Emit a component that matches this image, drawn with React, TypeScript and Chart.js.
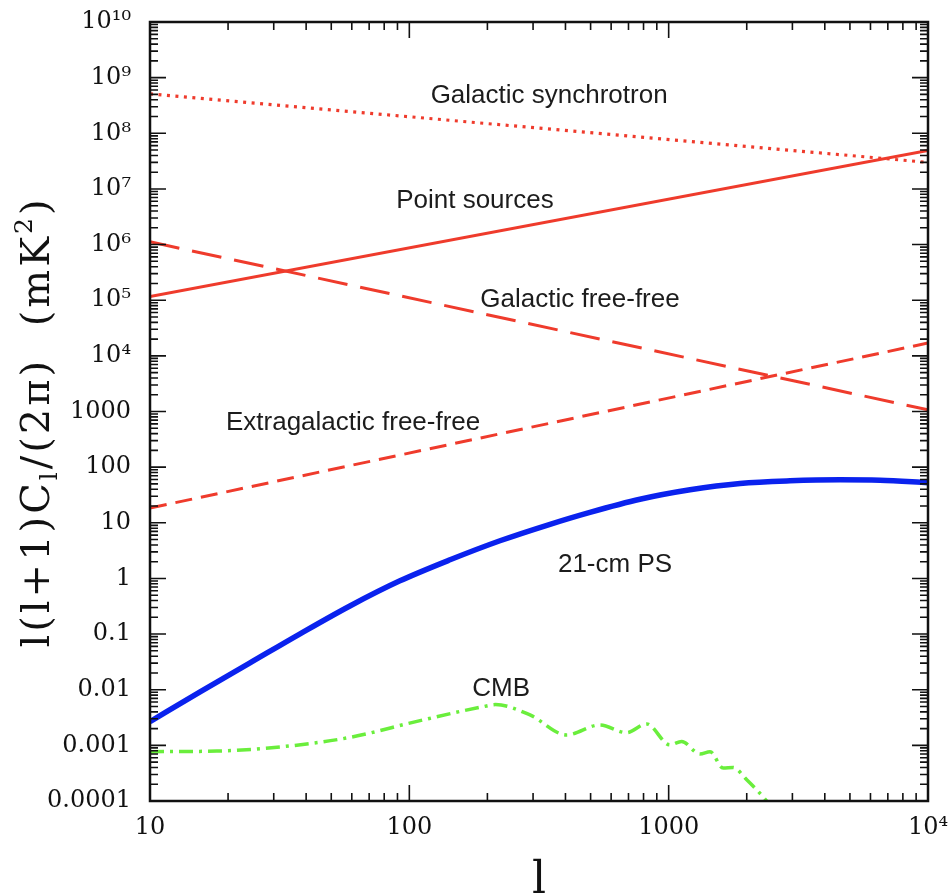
import React, { useEffect, useRef } from "react";
import { Chart, registerables } from "chart.js";

Chart.register(...registerables);

// ---- axis ticks ----
const xTickValues = [10, 100, 1000, 10000];
const xTickLabels = ["10", "100", "1000", "10⁴"];
const yTickValues = [1e-4, 1e-3, 1e-2, 1e-1, 1, 10, 100, 1000, 1e4, 1e5, 1e6, 1e7, 1e8, 1e9, 1e10];
const yTickLabels = [
  "0.0001", "0.001", "0.01", "0.1", "1", "10", "100", "1000",
  "10⁴", "10⁵", "10⁶", "10⁷", "10⁸", "10⁹", "10¹⁰",
];

// ---- series (multipole l, l(l+1)C_l/2π in mK^2) ----
const synchrotronL = [10, 10000];
const synchrotronV = [5.1e8, 3.0e7];

const pointSourcesL = [10, 10000];
const pointSourcesV = [1.17e5, 4.9e7];

const galacticFFL = [10, 10000];
const galacticFFV = [1.12e6, 1.07e3];

const extragalacticFFL = [10, 10000];
const extragalacticFFV = [18.4, 1.7e4];

const ps21L = [10, 15.6, 24.3, 37.9, 59, 92, 143.5, 223.6, 348.7, 497, 775, 1209, 1884, 2937, 4579, 6530, 10000];
const ps21V = [0.00267, 0.00913, 0.0303, 0.101, 0.32, 0.905, 2.16, 4.75, 9.4, 15.4, 26.5, 39.2, 51, 56.9, 59.3, 58.1, 52.4];

const cmbL = [10, 18.1, 32.7, 59, 107, 193, 215, 292, 404, 543, 688, 822, 1011, 1122, 1321, 1444, 1622, 1772, 2000, 2388, 2500];
const cmbV = [7.7e-4, 7.9e-4, 9.5e-4, 1.39e-3, 2.7e-3, 4.97e-3, 5.4e-3, 3.52e-3, 1.54e-3, 2.33e-3, 1.69e-3, 2.43e-3, 1.02e-3, 1.17e-3, 7.0e-4, 7.7e-4, 3.9e-4, 4.0e-4, 2.4e-4, 1.0e-4, 7.5e-5];

// ---- in-plot labels (anchored at data coordinates) ----
const labelTexts = ["Galactic synchrotron", "Point sources", "Galactic free-free", "Extragalactic free-free", "21-cm PS", "CMB"];
const labelL = [346, 179, 455, 60.7, 621, 226];
const labelV = [4.8e8, 6.2e6, 1.02e5, 630, 1.76, 0.0103];

const RED = "#ef3b2c";
const BLUE = "#0a22ee";
const GREEN = "#6aee3c";

const pts = (ls: number[], vs: number[]) => ls.map((l, i) => ({ x: l, y: vs[i] }));

const framePlugin = {
  id: "frameTicksText",
  afterDatasetsDraw(chart: any) {
    const { ctx, chartArea: a, scales } = chart;
    const xs = scales.x;
    const ys = scales.y;
    ctx.save();
    ctx.strokeStyle = "#111";
    ctx.lineWidth = 1.6;
    ctx.beginPath();
    const majorLen = 16;
    const minorLen = 8;
    for (let d = 1; d <= 4; d++) {
      for (let k = 1; k <= 9; k++) {
        if (d === 4 && k > 1) break;
        const v = k * Math.pow(10, d);
        const px = xs.getPixelForValue(v);
        const len = k === 1 ? majorLen : minorLen;
        ctx.moveTo(px, a.bottom);
        ctx.lineTo(px, a.bottom - len);
        ctx.moveTo(px, a.top);
        ctx.lineTo(px, a.top + len);
      }
    }
    for (let d = -4; d <= 10; d++) {
      for (let k = 1; k <= 9; k++) {
        if (d === 10 && k > 1) break;
        const v = k * Math.pow(10, d);
        const py = ys.getPixelForValue(v);
        const len = k === 1 ? majorLen : minorLen;
        ctx.moveTo(a.left, py);
        ctx.lineTo(a.left + len, py);
        ctx.moveTo(a.right, py);
        ctx.lineTo(a.right - len, py);
      }
    }
    ctx.stroke();
    ctx.lineWidth = 2.5;
    ctx.strokeRect(a.left, a.top, a.right - a.left, a.bottom - a.top);

    // annotations
    ctx.fillStyle = "#1c1c1c";
    ctx.font = '26px "Liberation Sans", Arial, sans-serif';
    ctx.textAlign = "center";
    ctx.textBaseline = "middle";
    labelTexts.forEach((t, i) => {
      ctx.fillText(t, xs.getPixelForValue(labelL[i]), ys.getPixelForValue(labelV[i]));
    });

    // y axis title
    ctx.fillStyle = "#111";
    ctx.translate(36, 422);
    ctx.rotate(-Math.PI / 2);
    ctx.textAlign = "left";
    ctx.textBaseline = "alphabetic";
    try {
      (ctx as any).letterSpacing = "3px";
    } catch (e) {}
    const mainF = '40px "DejaVu Serif", serif';
    const smallF = '25px "DejaVu Serif", serif';
    const segs: [string, string, number][] = [
      ["l(l+1)C", mainF, 13],
      ["l", smallF, 21],
      ["/(2π)  (mK", mainF, 13],
      ["2", smallF, -4],
      [")", mainF, 13],
    ];
    let total = 0;
    segs.forEach(([t, f]) => {
      ctx.font = f;
      total += ctx.measureText(t).width;
    });
    let x = -total / 2;
    segs.forEach(([t, f, dy]) => {
      ctx.font = f;
      ctx.fillText(t, x, dy);
      x += ctx.measureText(t).width;
    });
    ctx.restore();

    // x axis title
    ctx.save();
    ctx.fillStyle = "#111";
    ctx.font = '44px "DejaVu Serif", serif';
    ctx.textAlign = "center";
    ctx.textBaseline = "alphabetic";
    ctx.fillText("l", (a.left + a.right) / 2, 893);
    ctx.restore();
  },
};

const zeroPad = (s: any) => {
  s.paddingTop = 0;
  s.paddingBottom = 0;
  s.paddingLeft = 0;
  s.paddingRight = 0;
};

export default function App() {
  const ref = useRef<HTMLCanvasElement | null>(null);
  useEffect(() => {
    if (!ref.current) return;
    const tickFont = { family: '"DejaVu Serif", serif', size: 24 };
    const chart = new Chart(ref.current, {
      type: "line",
      data: {
        datasets: [
          {
            label: "Galactic synchrotron",
            data: pts(synchrotronL, synchrotronV),
            borderColor: RED,
            borderWidth: 3.2,
            borderDash: [3, 5.5],
            pointRadius: 0,
            tension: 0,
          },
          {
            label: "Point sources",
            data: pts(pointSourcesL, pointSourcesV),
            borderColor: RED,
            borderWidth: 3,
            pointRadius: 0,
            tension: 0,
          },
          {
            label: "Galactic free-free",
            data: pts(galacticFFL, galacticFFV),
            borderColor: RED,
            borderWidth: 3,
            borderDash: [30, 13],
            pointRadius: 0,
            tension: 0,
          },
          {
            label: "Extragalactic free-free",
            data: pts(extragalacticFFL, extragalacticFFV),
            borderColor: RED,
            borderWidth: 3,
            borderDash: [17, 9],
            pointRadius: 0,
            tension: 0,
          },
          {
            label: "21-cm PS",
            data: pts(ps21L, ps21V),
            borderColor: BLUE,
            borderWidth: 5.5,
            pointRadius: 0,
            cubicInterpolationMode: "monotone",
          },
          {
            label: "CMB",
            data: pts(cmbL, cmbV),
            borderColor: GREEN,
            borderWidth: 3.5,
            borderDash: [14, 6, 3, 6],
            pointRadius: 0,
            cubicInterpolationMode: "monotone",
          },
        ],
      },
      options: {
        animation: false,
        responsive: false,
        events: [],
        layout: { padding: { top: 22, right: 24, left: 0, bottom: 0 } },
        plugins: { legend: { display: false }, tooltip: { enabled: false }, title: { display: false } },
        scales: {
          x: {
            type: "logarithmic",
            min: 10,
            max: 10000,
            position: "bottom",
            afterFit: (s: any) => {
              s.height = 95;
              zeroPad(s);
            },
            afterBuildTicks: (s: any) => {
              s.ticks = xTickValues.map((v) => ({ value: v }));
            },
            grid: { display: false, drawTicks: false },
            border: { display: false },
            ticks: {
              autoSkip: false,
              maxRotation: 0,
              padding: 12,
              color: "#111",
              font: tickFont,
              callback: (v: any) => {
                const i = xTickValues.indexOf(Number(v));
                return i >= 0 ? xTickLabels[i] : "";
              },
            },
          },
          y: {
            type: "logarithmic",
            min: 1e-4,
            max: 1e10,
            afterFit: (s: any) => {
              s.width = 150;
              zeroPad(s);
            },
            afterBuildTicks: (s: any) => {
              s.ticks = yTickValues.map((v) => ({ value: v }));
            },
            grid: { display: false, drawTicks: false },
            border: { display: false },
            ticks: {
              autoSkip: false,
              padding: 19,
              color: "#111",
              font: tickFont,
              callback: (v: any) => {
                const i = yTickValues.indexOf(Number(v));
                return i >= 0 ? yTickLabels[i] : "";
              },
            },
          },
        },
      },
      plugins: [framePlugin],
    } as any);
    return () => chart.destroy();
  }, []);
  return (
    <div style={{ position: "absolute", left: 0, top: 0, width: 952, height: 896, background: "#fff" }}>
      <canvas ref={ref} width={952} height={896} style={{ display: "block", width: 952, height: 896 }} />
    </div>
  );
}
